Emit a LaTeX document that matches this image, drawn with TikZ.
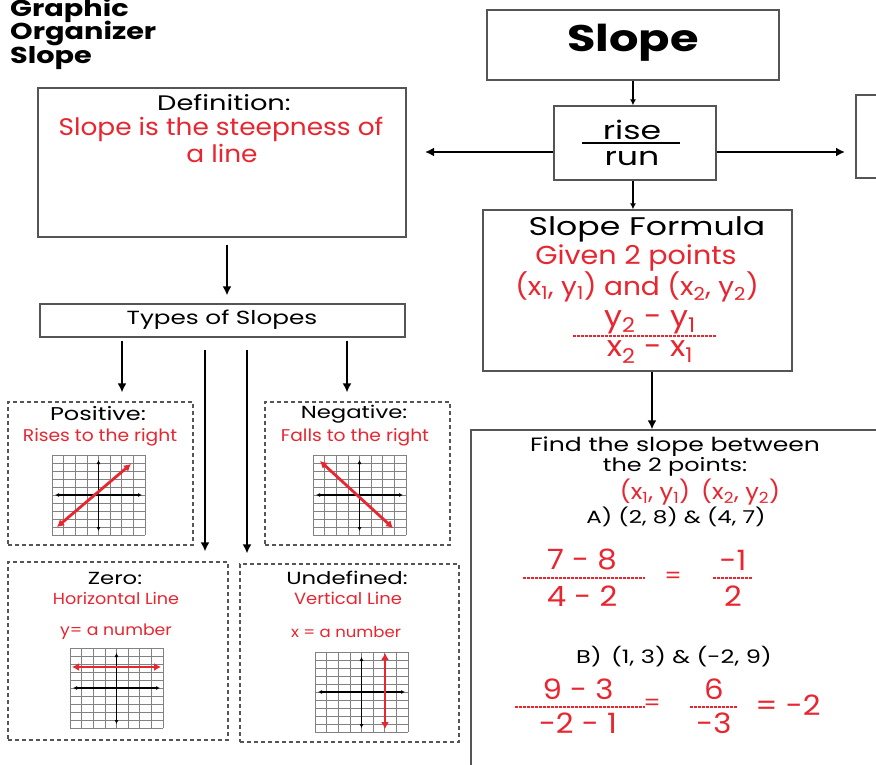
\documentclass[tikz,border=0pt]{standalone}
\usepackage{fontspec}
\setmainfont{Poppins}[FakeStretch=1.3]
\newfontfamily\rd{Poppins}[FakeStretch=1.1]
\newfontfamily\tb{Poppins}[FakeStretch=1.25]
\usetikzlibrary{arrows.meta}
\definecolor{mred}{RGB}{232,38,48}
\definecolor{boxgray}{RGB}{85,85,85}
\definecolor{gridgray}{RGB}{130,130,130}
\newcommand\fs[1]{\fontsize{#1}{#1}\selectfont}
\newcommand\gridgraph[2]{%
  \begin{scope}[shift={(#1,#2)}]
    \foreach \i in {0,...,8} \draw[gridline] (\i*11.625,0) -- (\i*11.625,80);
    \foreach \j in {0,...,10} \draw[gridline] (0,\j*8) -- (93,\j*8);
    \draw[axis] (46.5,5) -- (46.5,76);
    \draw[axis] (3,40) -- (90,40);
  \end{scope}}
\begin{document}
\begin{tikzpicture}[x=1pt,y=-1pt,
  box/.style={draw=boxgray,line width=1.3pt,rectangle,inner sep=0pt},
  dbox/.style={draw=boxgray,line width=1.2pt,dash pattern=on 4pt off 3pt,rectangle,inner sep=0pt},
  arr/.style={line width=2.2pt,-{Latex[length=9pt,width=9pt]}},
  sarr/.style={line width=1.6pt,-{Latex[length=6pt,width=6pt]}},
  gridline/.style={draw=gridgray,line width=0.55pt},
  axis/.style={line width=1.2pt,{Latex[length=4pt,width=4pt]}-{Latex[length=4pt,width=4pt]}},
  redline/.style={draw=mred,line width=2.8pt,{Latex[length=7pt,width=8pt]}-{Latex[length=7pt,width=8pt]}},
  txt/.style={inner sep=0pt,align=center},
  rtxt/.style={inner sep=0pt,align=center,text=mred,font=\rd},
  dline/.style={draw=mred,line width=1.1pt,dash pattern=on 2.5pt off 1.5pt}
]
\useasboundingbox (0,0) rectangle (876,765);
\clip (0,0) rectangle (876,765);
\fill[white] (0,0) rectangle (876,765);

% title
\node[txt,anchor=base west] (t1) at (10,17) {\tb\fs{23}\bfseries Graphic};
\node[txt,anchor=base west] (t2) at (10,40) {\tb\fs{23}\bfseries Organizer};
\node[txt,anchor=base west] (t3) at (10,64) {\tb\fs{23}\bfseries Slope};

% boxes
\node[box,minimum width=292pt,minimum height=70pt] (slopebox) at (633,45) {};
\node[box,minimum width=162pt,minimum height=74pt] (riserun) at (635,143) {};
\node[box,minimum width=44pt,minimum height=83pt] (rightbox) at (878,136.5) {};
\node[box,minimum width=309pt,minimum height=161pt] (formula) at (637.5,290.5) {};
\node[box,minimum width=429pt,minimum height=370pt] (findbox) at (685.5,615) {};
\node[box,minimum width=368pt,minimum height=149pt] (defbox) at (222,162.5) {};
\node[box,minimum width=365pt,minimum height=33pt] (types) at (222.5,320.5) {};
\node[dbox,minimum width=185pt,minimum height=143pt] (posbox) at (100.5,473.5) {};
\node[dbox,minimum width=185pt,minimum height=143pt] (negbox) at (357.5,473.5) {};
\node[dbox,minimum width=220pt,minimum height=178pt] (zerobox) at (118,651) {};
\node[dbox,minimum width=219pt,minimum height=178pt] (undefbox) at (349.5,653) {};

% texts
\node[txt] (slopet) at (633,43) {\tb\fs{37}\bfseries Slope};
\node[txt] (rise) at (632,130) {\fs{25.5}rise};
\node[txt] (run) at (632,158) {\fs{25.5}run};
\coordinate (fl) at (582,143);
\coordinate (fr) at (680,143);
\draw[line width=1.5pt] (fl) -- (fr);

\node[txt] (deft) at (224,103) {\fs{21}Definition:};
\node[rtxt] (def1) at (221,129) {\fs{24}Slope is the steepness of};
\node[rtxt] (def2) at (222,153) {\fs{24}a line};

\node[txt] (typest) at (222,320) {\fs{19}Types of Slopes};

\node[txt] (post) at (98,414) {\fs{18.5}Positive:};
\node[rtxt] (pos2) at (100,437) {\fs{17}Rises to the right};
\node[txt] (negt) at (354,414) {\fs{17.5}Negative:};
\node[rtxt] (neg2) at (355,437) {\fs{17}Falls to the right};
\node[txt] (zerot) at (115,578) {\fs{17.5}Zero:};
\node[rtxt] (zero2) at (116,598) {\fs{16}Horizontal Line};
\node[rtxt] (zero3) at (116,632) {\fs{15.7}y= a number};
\node[txt] (undt) at (347,578) {\fs{17.5}Undefined:};
\node[rtxt] (und2) at (348,598) {\fs{16.3}Vertical Line};
\node[rtxt] (und3) at (346,632) {\fs{15}x = a number};

\node[txt] (sft) at (647,229) {\fs{25.5}Slope Formula};
\node[rtxt] (sf2) at (636,258) {\fs{26}Given 2 points};
\node[rtxt] (sf3) at (637,287) {\fs{25.5}(x\textsubscript{1}, y\textsubscript{1}) and (x\textsubscript{2}, y\textsubscript{2})};
\node[rtxt] (sfnum) at (650,322) {\fs{29}y\textsubscript{2} - y\textsubscript{1}};
\coordinate (sfl) at (573,336);
\coordinate (sfr) at (717,336);
\draw[dline] (sfl) -- (sfr);
\node[rtxt] (sfden) at (650,352) {\fs{29}x\textsubscript{2} - x\textsubscript{1}};

\node[txt] (f1) at (675,447) {\fs{19.3}Find the slope between};
\node[txt] (f2) at (675,467) {\fs{18.4}the 2 points:};
\node[rtxt] (f3) at (700,492) {\fs{22}(x\textsubscript{1}, y\textsubscript{1})\enspace (x\textsubscript{2}, y\textsubscript{2})};
\node[txt] (f4) at (676,517) {\fs{17.7}A) (2, 8) \& (4, 7)};
\node[rtxt] (a1n) at (582,560) {\fs{28}7 - 8};
\coordinate (a1l) at (523,578);
\coordinate (a1r) at (645,578);
\draw[dline] (a1l) -- (a1r);
\node[rtxt] (a1d) at (582,596) {\fs{28}4 - 2};
\node[rtxt] (a1e) at (673,578) {\fs{22}=};
\node[rtxt] (a2n) at (733,560) {\fs{28}-1};
\coordinate (a2l) at (713,578);
\coordinate (a2r) at (753,578);
\draw[dline] (a2l) -- (a2r);
\node[rtxt] (a2d) at (733,596) {\fs{28}2};
\node[txt] (fb) at (674,657) {\fs{18.5}B)\enspace (1, 3) \& (-2, 9)};
\node[rtxt] (b1n) at (578,689) {\fs{28}9 - 3};
\coordinate (b1l) at (515,707);
\coordinate (b1r) at (645,707);
\draw[dline] (b1l) -- (b1r);
\node[rtxt] (b1d) at (578,723) {\fs{28}-2 - 1};
\node[rtxt] (b1e) at (652,705) {\fs{22}=};
\node[rtxt] (b2n) at (714,689) {\fs{28}6};
\coordinate (b2l) at (690,707);
\coordinate (b2r) at (737,707);
\draw[dline] (b2l) -- (b2r);
\node[rtxt] (b2d) at (714,723) {\fs{28}-3};
\node[rtxt] (b3) at (788,705) {\fs{28}= -2};

% graphs
\gridgraph{52}{455}
\draw[redline] (57,527) -- (131,464);
\gridgraph{313}{455}
\draw[redline] (320,461) -- (393,528);
\gridgraph{70}{648}
\draw[redline] (72,667) -- (161,667);
\gridgraph{315}{652}
\draw[redline] (385,653) -- (385,729);

% connectors
\coordinate (leftend) at (425,152);
\coordinate (rightend) at (845,152);
\draw[sarr] (slopebox.south) -- (slopebox.south |- riserun.north);
\draw[arr,line width=1.8pt] (riserun.west |- leftend) -- (leftend);
\draw[arr,line width=1.8pt] (riserun.east |- rightend) -- (rightend);
\draw[sarr] (riserun.south -| slopebox.south) -- (slopebox.south |- formula.north);
\draw[arr] ([xshift=14.5pt]formula.south) -- ([xshift=14.5pt]formula.south |- findbox.north);
\draw[arr,shorten <=7pt,shorten >=8pt] ([xshift=5pt]defbox.south) -- ([xshift=5pt]defbox.south |- types.north);
\draw[arr,shorten <=3pt,shorten >=9pt] (types.south -| 122,0) -- (posbox.north -| 122,0);
\draw[arr,shorten <=3pt,shorten >=9pt] (types.south -| 347,0) -- (negbox.north -| 347,0);
\draw[arr,shorten <=12pt,shorten >=10pt] (types.south -| 205,0) -- (zerobox.north -| 205,0);
\draw[arr,shorten <=12pt,shorten >=10pt] (types.south -| 247,0) -- (undefbox.north -| 247,0);
\end{tikzpicture}
\end{document}
